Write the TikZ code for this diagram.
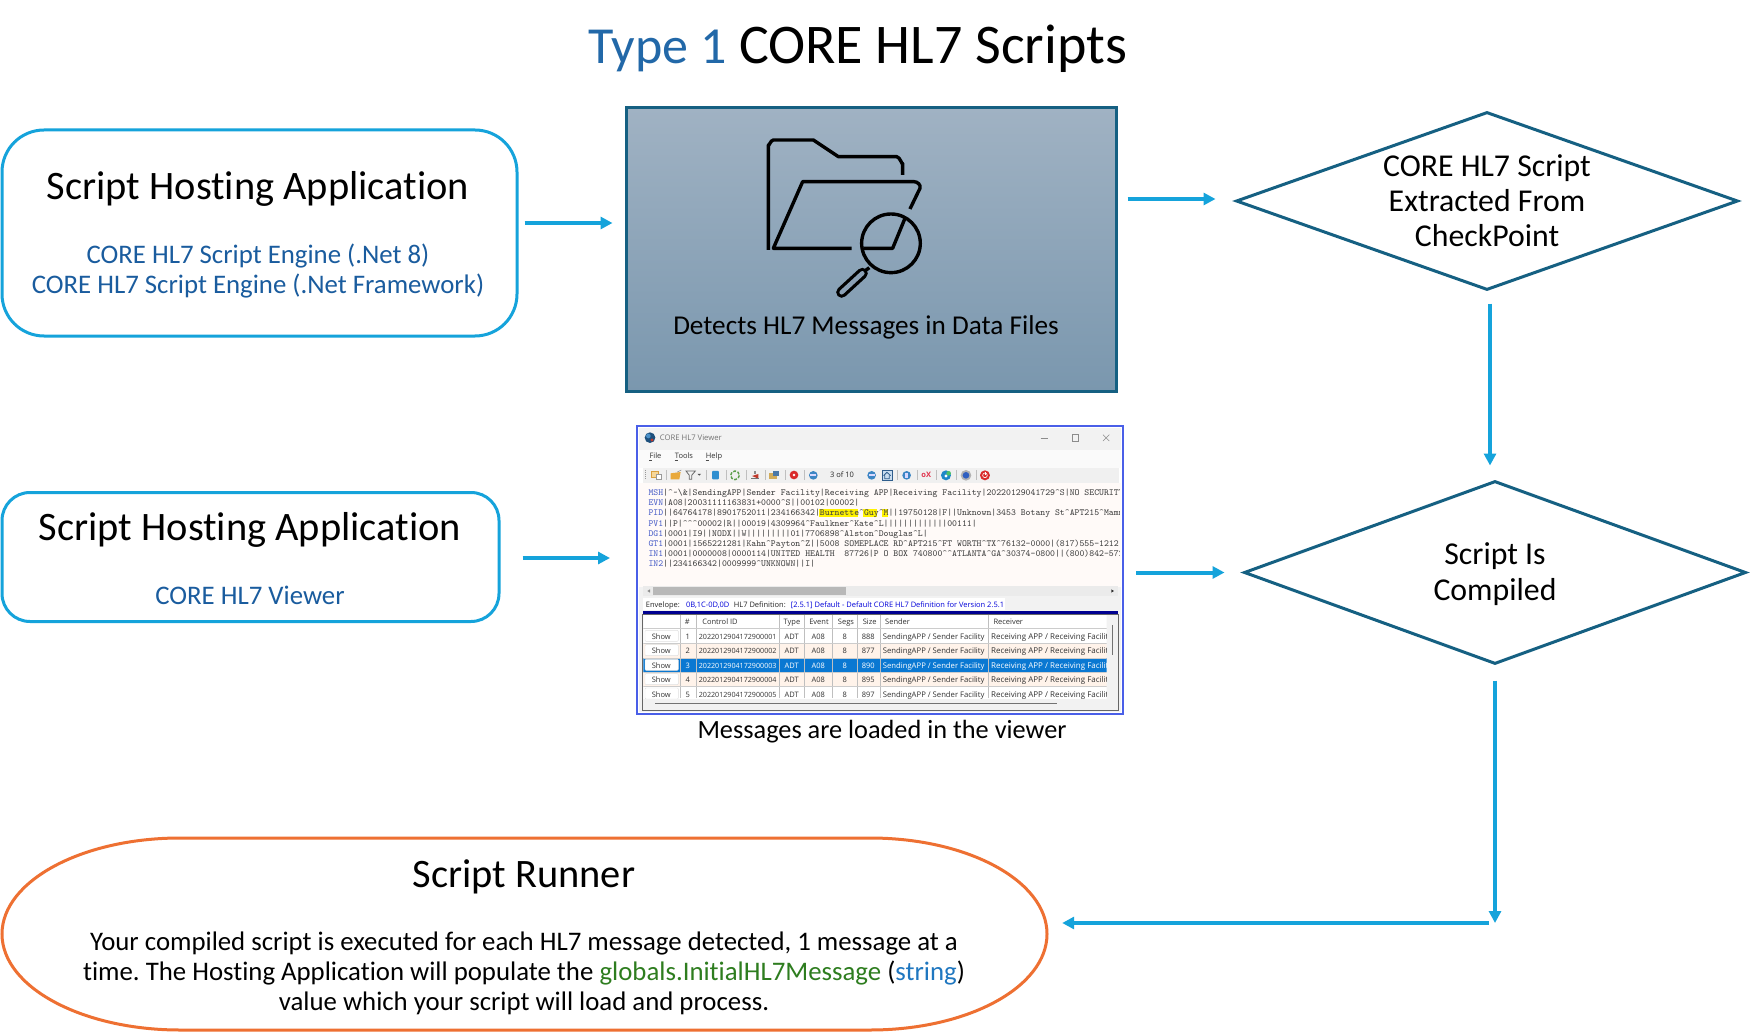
\documentclass[tikz,border=0pt]{standalone}
\usepackage{fontspec}
\setmainfont[Ligatures=NoCommon]{Carlito}
\newfontfamily\uifont{Open Sans}
\usetikzlibrary{arrows.meta,shapes.geometric,calc}
\definecolor{flowblue}{HTML}{15A3DB}
\definecolor{tealline}{HTML}{156082}
\definecolor{orangeline}{HTML}{EE7032}
\definecolor{subblue}{HTML}{1A5C9E}
\definecolor{titleblue}{HTML}{2268A8}
\definecolor{rungreen}{HTML}{2E7D1F}
\definecolor{strblue}{HTML}{1F77C0}
\definecolor{winblue}{HTML}{4A5FE8}
\definecolor{seggray}{HTML}{4A5FC8}
\definecolor{rowtint}{HTML}{FFF3EA}
\definecolor{rowsel}{HTML}{0A78D2}
\newcommand{\hx}[1]{\definecolor{#1}{HTML}{#1}}
\hx{A0B2C3}\hx{7A97AE}\hx{8AA0B5}\hx{FFFAF8}\hx{1C4F7C}\hx{4A90C8}\hx{C0392B}\hx{F6D79A}\hx{D9A040}\hx{E9A93C}\hx{2F8FD0}\hx{5C9E4A}\hx{D2AC5A}\hx{4A78A8}\hx{D92B2B}\hx{3C86C4}\hx{C9DDF0}\hx{2F5D8C}\hx{E0304A}\hx{1E88C8}\hx{4CC06A}\hx{2F5FC0}\hx{000090}
\newcommand{\fs}[1]{\fontsize{#1}{#1}\selectfont}
\newcommand{\cc}{\textasciicircum}
\newcommand{\seg}[1]{\textcolor{seggray}{#1}}
\frenchspacing
\tikzset{
  flow/.style={draw=flowblue,line width=4pt,-{Triangle[length=12pt,width=12pt]}},
  hostbox/.style={draw=flowblue,line width=3pt,fill=white,inner sep=0,rectangle},
  decision/.style={draw=tealline,line width=3pt,shape=diamond,inner sep=0,fill=white},
  txt/.style={anchor=base,inner sep=0,text=black},
  head/.style={txt,font=\fs{40.4}},
  body/.style={txt,font=\fs{27.2}},
  dia/.style={txt,font=\fs{31.8}},
  para/.style={txt,font=\fs{26.8}},
  sub/.style={txt,font=\fs{26.8},text=subblue},
  hl/.style={anchor=base west,inner sep=0,font=\ttfamily\fs{9.33},text=black!75},
  cell/.style={anchor=base,inner sep=0,font=\uifont\fs{7.5},text=black!80},
  icon/.style={line width=0.8pt},
  sepbar/.style={draw=black!25,line width=0.6pt},
}
\begin{document}
\begin{tikzpicture}[x=1pt,y=-1pt]
\useasboundingbox (0,0) rectangle (1750,1032);
\fill[white] (0,0) rectangle (1750,1032);

% title
\node[txt,font=\fs{54.5}] (title) at (858,64) {\textcolor{titleblue}{\fs{52}Type 1} {\fs{56}CORE HL7 Scripts}};

% first host box
\node[hostbox,rounded corners=42pt,minimum width=515,minimum height=206] (hostA) at (259.5,233) {};
\node[head] (hostAt) at (258,200) {Script Hosting Application};
\node[sub] (hostAs1) at (258,264) {CORE HL7 Script Engine (.Net 8)};
\node[sub] (hostAs2) at (258,294) {CORE HL7 Script Engine (.Net Framework)};

% detect panel
\node[rectangle,draw=tealline,line width=3pt,top color=A0B2C3,bottom color=7A97AE,minimum width=490,minimum height=284,inner sep=0] (panel) at (871,249.5) {};
\begin{scope}[shift={(610,95)},x=0.3333pt,y=-0.3333pt,line width=3.4pt,line join=round]
  \draw (475,465) -- (475,150) to[out=-90,in=180] (490,135) -- (610,135) -- (685,185) -- (860,185) to[out=0,in=-90] (878,205) -- (878,240);
  \draw (725,460) -- (490,460) -- (578,260) -- (912,260) to[out=0,in=70] (930,280) -- (900,342);
  \draw (760,460) -- (848,460) -- (885,370);
  \draw (843,445) circle[radius=88];
  \draw (778,518) -- (762,530);
  \draw[line width=11pt,line cap=round] (695,592) -- (757,535);
  \draw[line width=4.5pt,line cap=round,draw=8AA0B5] (695,592) -- (757,535);
\end{scope}
\node[body] (paneltxt) at (866,334) {Detects HL7 Messages in Data Files};

% first decision
\node[decision,minimum width=502,minimum height=178] (extract) at (1487,201) {};
\node[dia] (ex1) at (1487,177) {CORE HL7 Script};
\node[dia] (ex2) at (1487,212) {Extracted From};
\node[dia] (ex3) at (1487,247) {CheckPoint};

% second host box
\node[hostbox,rounded corners=28pt,minimum width=497,minimum height=129] (hostB) at (250.5,557) {};
\node[head] (hostBt) at (250,540) {Script Hosting Application};
\node[sub] (hostBs) at (250,604) {CORE HL7 Viewer};

% viewer window
\begin{scope}
  \fill[white] (637,426) rectangle (1123,714);
  \fill[black!5] (639,428) rectangle (1121,450);
  \fill[black!2] (639,450) rectangle (1121,468);
  \fill[black!6] (643,468) rectangle (1119,483);
  \fill[FFFAF8] (639,483) rectangle (1121,587);
  \fill[black!5] (639,587) rectangle (1121,712);
  \clip (639,428) rectangle (1119,712);
  % text area
  \begin{scope}[shift={(620,410)},x=0.3333pt,y=-0.3333pt]
    \fill[yellow] (597,298) rectangle (713,322);
    \fill[yellow] (730,298) rectangle (772,322);
    \fill[yellow] (787,298) rectangle (803,322);
    \foreach \yy/\ttt in {
      257/{\seg{MSH}|\cc\textasciitilde\textbackslash\&|SendingAPP|Sender Facility|Receiving APP|Receiving Facility|20220129041729\cc S|NO SECURITY},
      288/{\seg{EVN}|A08|20031111163831+0000\cc S||00102|00002|},
      318/{\seg{PID}||64764178|8901752011|234166342|Burnette\cc Guy\cc M||19750128|F||Unknown|3453 Botany St\cc APT215\cc Mammoth},
      349/{\seg{PV1}||P|\cc\cc\cc 00002|R||00019|4309964\cc Faulkner\cc Kate\cc L|||||||||||||00111|},
      379/{\seg{DG1}|0001|I9||NODX||W|||||||||01|7706898\cc Alston\cc Douglas\cc L|},
      410/{\seg{GT1}|0001|1565221281|Kahn\cc Payton\cc Z||5008 SOMEPLACE RD\cc APT215\cc FT WORTH\cc TX\cc 76132-0000|(817)555-1212},
      441/{\seg{IN1}|0001|0000008|0000114|UNITED HEALTH\ \ 87726|P O BOX 740800\cc\cc ATLANTA\cc GA\cc 30374-0800||(800)842-5721},
      471/{\seg{IN2}||234166342|0009999\cc UNKNOWN||I|}}
      {\node[hl] at (85,\yy) {\ttt};}
    % title bar
    \fill[1C4F7C] (90,83) circle[radius=16];
    \fill[4A90C8] (85,78) circle[radius=7];
    \fill[C0392B] (96,90) circle[radius=5];
    \node[anchor=base west,inner sep=0,font=\uifont\fs{7.7},text=black!55] at (119,93) {CORE HL7 Viewer};
    \draw[black!45,line width=0.6pt] (1262,84) -- (1284,84);
    \draw[black!45,line width=0.6pt] (1356,74) rectangle (1375,93);
    \draw[black!45,line width=0.6pt] (1449,74) -- (1468,93) (1468,74) -- (1449,93);
    % menu
    \node[anchor=base west,inner sep=0,font=\uifont\fs{7.5},text=black!80] at (88,147) {File};
    \node[anchor=base west,inner sep=0,font=\uifont\fs{7.5},text=black!80] at (164,147) {Tools};
    \node[anchor=base west,inner sep=0,font=\uifont\fs{7.5},text=black!80] at (257,147) {Help};
    \draw[black!70,line width=0.4pt] (88,150) -- (97,150) (164,150) -- (173,150) (257,150) -- (268,150);
    % toolbar
    \foreach \xx in {140,258,318,378,435,495,553,832,893,950,1010,1068}
      \draw[sepbar] (\xx,180) -- (\xx,210);
    \draw[black!40,line width=0.8pt,dash pattern=on 1pt off 1pt] (77,180) -- (77,210);
    \fill[F6D79A] (94,183) rectangle (114,202);
    \draw[D9A040,icon] (94,183) rectangle (114,202);
    \fill[white] (108,192) rectangle (125,208);
    \draw[black!40,line width=0.4pt] (108,192) rectangle (125,208);
    \fill[E9A93C] (152,190) -- (182,186) -- (178,208) -- (152,208) -- cycle;
    \draw[black!50,line width=0.5pt] (172,186) -- (184,180);
    \draw[black!60,icon] (198,183) -- (226,183) -- (215,196) -- (215,208) -- (208,208) -- (208,196) -- cycle;
    \fill[black!70] (233,192) -- (243,192) -- (238,197) -- cycle;
    \fill[2F8FD0,rounded corners=1pt] (276,183) rectangle (297,208);
    \draw[5C9E4A,line width=1.4pt,dash pattern=on 3pt off 1.5pt] (345,196) circle[radius=13];
    \fill[C0392B] (396,198) -- (415,192) -- (415,206) -- cycle;
    \fill[black!45] (402,182) rectangle (408,192);
    \fill[black!55] (392,205) rectangle (418,208);
    \fill[D2AC5A] (447,188) rectangle (470,208);
    \fill[4A78A8] (458,183) rectangle (476,197);
    \fill[D92B2B] (522,195) circle[radius=13];
    \fill[white] (522,195) circle[radius=4];
    \fill[3C86C4] (580,196) circle[radius=13];
    \fill[white!85!blue] (571,193.5) rectangle (589,198.5);
    \node[anchor=base,inner sep=0,font=\uifont\fs{7.5},text=black!85] at (666,203) {3 of 10};
    \fill[3C86C4] (755,196) circle[radius=13];
    \fill[white!85!blue] (746,193.5) rectangle (764,198.5);
    \fill[C9DDF0] (786,181) rectangle (817,210);
    \draw[2F5D8C,icon] (786,181) rectangle (817,210);
    \draw[2F5D8C,icon] (791,197) -- (801,187) -- (812,197) (794,197) -- (794,206) -- (808,206) -- (808,197);
    \fill[3C86C4] (860,196) circle[radius=13];
    \fill[white!85!blue] (856,188) rectangle (864,204);
    \node[anchor=base,inner sep=0,font=\uifont\bfseries\fs{7.5},text=E0304A] at (919,202) {oX};
    \fill[1E88C8] (978,196) circle[radius=15];
    \fill[4CC06A] (986,190) circle[radius=7];
    \fill[white] (978,198) circle[radius=5];
    \fill[black!30] (1038,196) circle[radius=16];
    \fill[2F5FC0] (1038,196) circle[radius=10];
    \fill[D92B2B] (1095,196) circle[radius=15];
    \draw[white,line width=0.6pt] (1095,196) circle[radius=7];
    \draw[white,line width=0.6pt] (1095,186) -- (1095,196);
  \end{scope}
  % lower part
  \begin{scope}[shift={(620,580)},x=0.3333pt,y=-0.3333pt]
    \fill[black!8] (70,18) rectangle (1495,48);
    \fill[black!28] (100,20) rectangle (677,46);
    \fill[black!45] (82,33) -- (90,28) -- (90,38) -- cycle;
    \fill[black!80] (1482,33) -- (1474,28) -- (1474,38) -- cycle;
    \fill[white] (70,54) rectangle (1155,90);
    \node[anchor=base west,inner sep=0,font=\uifont\fs{7.5},text=black!85] at (77,81) {Envelope:};
    \node[anchor=base west,inner sep=0,font=\uifont\fs{7.5},text=blue!85!black] at (198,81) {0B,1C-0D,0D};
    \node[anchor=base west,inner sep=0,font=\uifont\fs{7.5},text=black!85] at (341,81) {HL7 Definition:};
    \node[anchor=base west,inner sep=0,font=\uifont\fs{7.5},text=blue!85!black] at (512,81) {[2.5.1] Default - Default CORE HL7 Definition for Version 2.5.1};
    \fill[000090] (68,92) rectangle (1495,102);
    % table
    \fill[black!5] (68,103) rectangle (1495,390);
    \begin{scope}
      \clip (70,105) rectangle (1460,355);
      \fill[white] (70,105) rectangle (1460,145);
      \fill[white] (70,148) rectangle (1460,190);
      \fill[rowtint] (70,191) rectangle (1460,234);
      \fill[rowsel] (70,235) rectangle (1460,277);
      \fill[rowtint] (70,278) rectangle (1460,320);
      \fill[white] (70,321) rectangle (1460,360);
      \foreach \xx in {180,228,478,553,638,712,780,1105}
        \draw[black!25,line width=0.5pt] (\xx,105) -- (\xx,355);
      \foreach \yy in {146,190,234,277,320}
        \draw[black!20,line width=0.5pt] (70,\yy) -- (1460,\yy);
      \foreach \xx/\ttt in {300/Control ID,516/Type,597/Event,678/Segs,749/Size}
        \node[cell] at (\xx,135) {\ttt};
      \node[cell] at (202,135) {\#};
      \node[cell,anchor=base west] at (795,135) {Sender};
      \node[cell,anchor=base west] at (1120,135) {Receiver};
      \foreach \yy/\nn/\cid/\sz/\cl in {
        179/1/2022012904172900001/888/black!80,
        222/2/2022012904172900002/877/black!80,
        266/3/2022012904172900003/890/white,
        309/4/2022012904172900004/895/black!80,
        352/5/2022012904172900005/897/black!80}
      {
        \fill[white,draw=black!12,line width=0.4pt,rounded corners=1pt] (75,\yy-28) rectangle (175,\yy+5);
        \node[cell] at (124,\yy) {Show};
        \node[cell,text=\cl] at (203,\yy) {\nn};
        \node[cell,text=\cl,font=\uifont\fs{7.15}] at (353,\yy) {\cid};
        \node[cell,text=\cl] at (515,\yy) {ADT};
        \node[cell,text=\cl] at (595,\yy) {A08};
        \node[cell,text=\cl] at (674,\yy) {8};
        \node[cell,text=\cl] at (745,\yy) {\sz};
        \node[cell,text=\cl,anchor=base west,font=\uifont\fs{7.7}] at (788,\yy) {SendingAPP / Sender Facility};
        \node[cell,text=\cl,anchor=base west,font=\uifont\fs{8}] at (1113,\yy) {Receiving APP / Receiving Facility};
      }
    \end{scope}
    \draw[black!60,line width=0.8pt] (68,103) rectangle (1495,390);
    \draw[black!55,line width=0.7pt] (105,370) -- (1310,370);
    \draw[black!55,line width=0.9pt] (1476,135) -- (1476,225);
  \end{scope}
\end{scope}
\node[draw=winblue,line width=2pt,rectangle,minimum width=486,minimum height=288,inner sep=0] (viewer) at (880,570) {};
\node[body,font=\fs{26.3}] (viewertxt) at (882,738) {Messages are loaded in the viewer};

% second decision
\node[decision,minimum width=502,minimum height=183] (compile) at (1495,572.5) {};
\node[dia] (cp1) at (1495,564.5) {Script Is};
\node[dia] (cp2) at (1495,600) {Compiled};

% runner
\node[rectangle,inner sep=0,minimum width=1045,minimum height=192] (runner) at (524.5,934) {};
\draw[orangeline,line width=3pt] (180,838) -- (870,838)
  .. controls (968,838) and (1047,881) .. (1047,934)
  .. controls (1047,987) and (968,1030) .. (870,1030)
  -- (180,1030)
  .. controls (82,1030) and (2,987) .. (2,934)
  .. controls (2,881) and (82,838) .. (180,838) -- cycle;
\node[head] (runt) at (524,887) {Script Runner};
\node[para] (run1) at (524,950) {Your compiled script is executed for each HL7 message detected, 1 message at a};
\node[para] (run2) at (524,980) {time. The Hosting Application will populate the \textcolor{rungreen}{globals.InitialHL7Message} (\textcolor{strblue}{string})};
\node[para] (run3) at (524,1010) {value which your script will load and process.};

% connectors
\coordinate (bend) at (1495,923);
\draw[flow] ([xshift=6pt,yshift=10pt]hostA.east) -- ([xshift=-12pt,yshift=26.5pt]panel.west);
\draw[flow] ([xshift=10pt,yshift=50.5pt]panel.east) -- ([xshift=-19pt,yshift=2pt]extract.west);
\draw[flow] ([xshift=3pt,yshift=-12pt]extract.south) -- ([xshift=-5pt,yshift=14pt]compile.north);
\draw[flow] ([xshift=22pt,yshift=-1pt]hostB.east) -- ([xshift=-26pt,yshift=12pt]viewer.west);
\draw[flow] ([xshift=12pt,yshift=-2.5pt]viewer.east) -- ([xshift=-18pt]compile.west);
\draw[flow] ([yshift=-15pt]compile.south) -- (bend);
\draw[flow] ([xshift=-6pt]bend) -- ([xshift=15pt,yshift=11pt]runner.east);
\end{tikzpicture}
\end{document}
